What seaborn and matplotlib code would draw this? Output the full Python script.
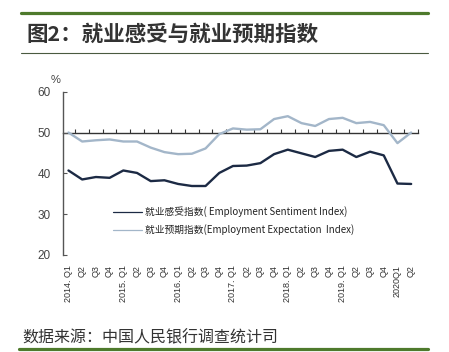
import numpy as np
import pandas as pd
import matplotlib
matplotlib.use("Agg")
import matplotlib.pyplot as plt
from matplotlib.lines import Line2D
import seaborn as sns

# quarterly labels, 2014Q1 .. 2020Q2
quarters = ["2014. Q1", "Q2", "Q3", "Q4",
            "2015. Q1", "Q2", "Q3", "Q4",
            "2016. Q1", "Q2", "Q3", "Q4",
            "2017. Q1", "Q2", "Q3", "Q4",
            "2018. Q1", "Q2", "Q3", "Q4",
            "2019. Q1", "Q2", "Q3", "Q4",
            "2020Q1", "Q2"]

# values (%)
sentiment = [40.7, 38.5, 39.1, 38.9, 40.7, 40.1, 38.1, 38.3, 37.4, 36.9, 36.9, 40.1,
             41.8, 41.9, 42.5, 44.7, 45.8, 44.9, 44.0, 45.5, 45.8, 44.0, 45.3, 44.4,
             37.5, 37.4]
expectation = [50.0, 47.8, 48.1, 48.3, 47.8, 47.8, 46.3, 45.2, 44.7, 44.8, 46.1, 49.6,
               51.0, 50.7, 50.8, 53.3, 54.0, 52.3, 51.6, 53.3, 53.6, 52.3, 52.6, 51.8,
               47.4, 50.0]

lab_sent = "就业感受指数( Employment Sentiment Index)"
lab_exp = "就业预期指数(Employment Expectation  Index)"

df = pd.DataFrame({
    "idx": list(range(len(quarters))) * 2,
    "value": sentiment + expectation,
    "series": [lab_sent] * len(quarters) + [lab_exp] * len(quarters),
})

sns.set_style("white")
plt.rcParams["font.family"] = ["Noto Sans CJK SC", "DejaVu Sans"]

dark = "#1c2a44"
light = "#a3b6c9"
txt = "#333333"

fig = plt.figure(figsize=(4.49, 3.52), dpi=100)
ax = fig.add_axes([0.1403, 0.2756, 0.931 - 0.1403, 0.7395 - 0.2756])

sns.lineplot(data=df, x="idx", y="value", hue="series",
             palette=[dark, light], linewidth=1.7, ax=ax)

ax.set_xlim(-0.4, 25.5)
ax.set_ylim(20, 60)
ax.set_xlabel("")
ax.set_ylabel("")

# y axis
ax.set_yticks([20, 30, 40, 50, 60])
ax.tick_params(axis="y", left=True, direction="in", length=3, width=0.8,
               color="#555555", labelsize=8.5, labelcolor="#444444", pad=9)
for lbl in ax.get_yticklabels():
    lbl.set_family(["Liberation Sans", "DejaVu Sans"])
for s in ["top", "right", "bottom"]:
    ax.spines[s].set_visible(False)
ax.spines["left"].set_color("#555555")
ax.spines["left"].set_linewidth(1.0)

# x tick labels at the bottom
ax.set_xticks(range(len(quarters)))
ax.set_xticklabels(quarters, rotation=90, fontsize=6.5, color="#333333")
for lbl in ax.get_xticklabels():
    lbl.set_family(["Liberation Sans", "DejaVu Sans"])
ax.tick_params(axis="x", bottom=False, length=0, pad=7)

# category axis drawn across the 50 line
sec = ax.secondary_xaxis(0.75)
sec.set_xticks(np.arange(len(quarters)) + 0.5)
sec.tick_params(axis="x", direction="out", length=3, width=0.8, color="#333333",
                labeltop=False, labelbottom=False, top=True, bottom=False)
for s in sec.spines.values():
    s.set_color("#333333")
    s.set_linewidth(1.0)

ax.text(-0.02, 1.07, "%", transform=ax.transAxes, fontsize=8, color="#444444",
        ha="center", va="center", family=["Liberation Sans", "DejaVu Sans"])

# legend
ax.get_legend().remove()
handles, labels = ax.get_legend_handles_labels()
leg = ax.legend(handles, labels, loc="center left", bbox_to_anchor=(0.115, 0.21),
                frameon=False, fontsize=7, handlelength=3.0, handletextpad=0.35,
                labelspacing=0.75)
for h in leg.get_lines():
    h.set_linewidth(0.9)
for t in leg.get_texts():
    t.set_color("#222222")

# title block and source
fig.add_artist(Line2D([21 / 449, 428 / 449], [1 - 13.3 / 352] * 2, color="#4e7a2c", lw=2.3))
fig.text(26 / 449, 1 - 34.5 / 352, "图2：就业感受与就业预期指数", fontsize=15.5,
         fontweight="bold", color=txt, ha="left", va="center")
fig.add_artist(Line2D([21 / 449, 428 / 449], [1 - 53.3 / 352] * 2, color="#4a5a40", lw=0.8))
fig.text(22 / 449, 1 - 338 / 352, "数据来源：中国人民银行调查统计司", fontsize=11.5,
         color=txt, ha="left", va="center")
fig.add_artist(Line2D([19 / 449, 428 / 449], [1 - 349.3 / 352] * 2, color="#4e7a2c", lw=2.3))

fig.savefig("out.png", dpi=100)
